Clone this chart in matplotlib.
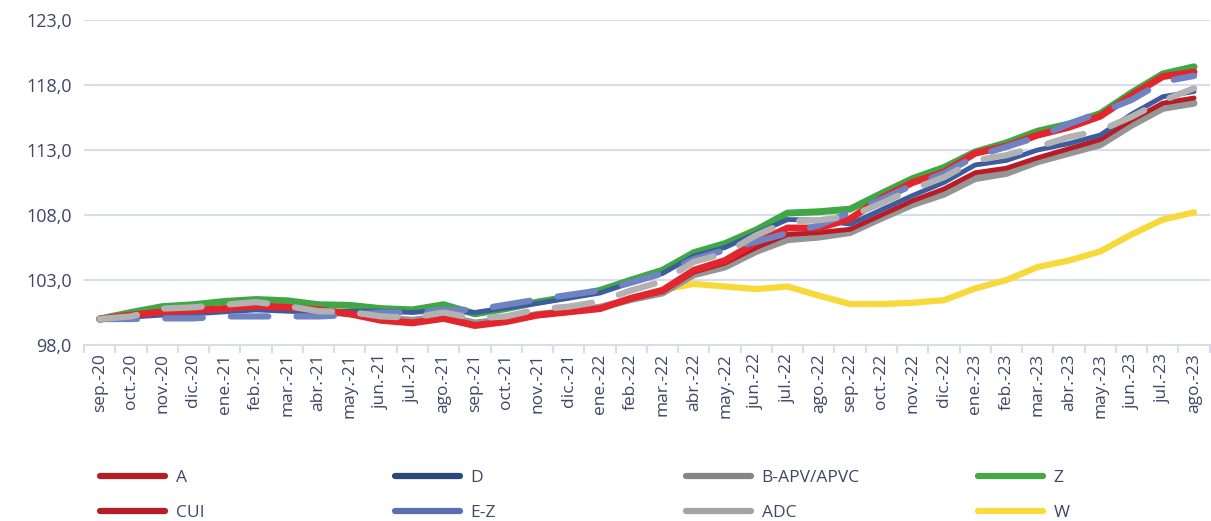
import matplotlib
matplotlib.use("Agg")
import matplotlib.pyplot as plt
from matplotlib.lines import Line2D
from matplotlib.ticker import FuncFormatter
import numpy as np

plt.rcParams['font.family'] = ['Open Sans', 'DejaVu Sans']

## Data (index, sep.-20 = 100)
months = ['sep.-20', 'oct.-20', 'nov.-20', 'dic.-20', 'ene.-21', 'feb.-21', 'mar.-21', 'abr.-21',
          'may.-21', 'jun.-21', 'jul.-21', 'ago.-21', 'sep.-21', 'oct.-21', 'nov.-21', 'dic.-21',
          'ene.-22', 'feb.-22', 'mar.-22', 'abr.-22', 'may.-22', 'jun.-22', 'jul.-22', 'ago.-22',
          'sep.-22', 'oct.-22', 'nov.-22', 'dic.-22', 'ene.-23', 'feb.-23', 'mar.-23', 'abr.-23',
          'may.-23', 'jun.-23', 'jul.-23', 'ago.-23']

serie_a = [100.0, 100.3, 100.55, 100.65, 100.8, 101.0, 100.9, 100.7, 100.4, 99.9, 99.7, 100.05,
           99.5, 99.8, 100.3, 100.55, 100.8, 101.6, 102.2, 103.75, 104.5, 105.9, 107.0, 107.0,
           107.7, 109.3, 110.5, 111.3, 112.75, 113.3, 114.15, 114.75, 115.6, 117.2, 118.65, 119.0]
serie_d = [100.0, 100.15, 100.3, 100.4, 100.55, 100.7, 100.6, 100.5, 100.6, 100.6, 100.5, 100.7,
           100.5, 100.85, 101.2, 101.6, 102.0, 102.8, 103.5, 104.85, 105.5, 106.6, 107.65, 107.6,
           107.3, 108.4, 109.5, 110.5, 111.85, 112.2, 113.0, 113.5, 114.15, 115.75, 117.1, 117.5]
serie_bapv = [100.0, 100.2, 100.5, 100.6, 100.8, 101.0, 100.9, 100.6, 100.4, 100.1, 99.9, 100.2,
              99.7, 99.95, 100.35, 100.6, 100.9, 101.5, 102.0, 103.4, 104.0, 105.2, 106.1, 106.3,
              106.65, 107.75, 108.8, 109.6, 110.8, 111.2, 112.1, 112.75, 113.4, 114.9, 116.2, 116.6]
serie_z = [100.0, 100.5, 100.95, 101.1, 101.35, 101.5, 101.4, 101.1, 101.05, 100.8, 100.7, 101.1,
           100.4, 100.8, 101.3, 101.7, 102.2, 103.0, 103.75, 105.1, 105.8, 106.85, 108.15, 108.25,
           108.45, 109.65, 110.8, 111.65, 112.85, 113.55, 114.45, 115.0, 115.8, 117.4, 118.85, 119.4]
serie_cui = [100.0, 100.25, 100.5, 100.6, 100.75, 100.95, 100.85, 100.65, 100.35, 99.95, 99.75, 100.0,
             99.55, 99.85, 100.3, 100.55, 100.8, 101.55, 102.1, 103.6, 104.3, 105.5, 106.5, 106.65,
             106.9, 108.0, 109.1, 110.0, 111.25, 111.6, 112.4, 113.1, 113.8, 115.3, 116.6, 117.0]
serie_ez = [100.0, 100.0, 100.05, 100.05, 100.2, 100.2, 100.2, 100.2, 100.3, 100.5, 100.5, 100.7,
            100.7, 101.1, 101.5, 101.85, 102.2, 102.8, 103.5, 104.6, 105.3, 105.95, 106.6, 107.2,
            108.2, 109.2, 110.3, 111.2, 112.5, 113.25, 114.0, 115.0, 115.9, 116.85, 118.25, 118.7]
serie_adc = [100.0, 100.2, 100.8, 100.9, 101.1, 101.3, 101.0, 100.6, 100.55, 100.2, 100.1, 100.5,
             100.05, 100.2, 100.75, 100.95, 101.35, 102.2, 102.9, 104.4, 105.05, 106.45, 107.5, 107.6,
             107.9, 108.9, 110.0, 110.9, 112.2, 112.6, 113.25, 114.0, 114.5, 115.55, 116.8, 117.75]
serie_w = [100.0, 100.3, 100.55, 100.65, 100.8, 101.0, 100.9, 100.7, 100.4, 99.95, 99.75, 100.05,
           99.55, 99.85, 100.3, 100.55, 100.8, 101.6, 102.25, 102.7, 102.5, 102.3, 102.5, 101.8,
           101.15, 101.15, 101.25, 101.45, 102.35, 103.0, 104.0, 104.5, 105.2, 106.5, 107.65, 108.2]

y_ticks = [98, 103, 108, 113, 118, 123]

grid_col = '#D9DCEE'
text_col = '#3E4766'

fig = plt.figure(figsize=(12.11, 5.21), dpi=100)
ax = fig.add_axes([0.0694, 0.3378, 0.9295, 0.6238])

x = np.arange(len(months))
common = dict(solid_capstyle='round', solid_joinstyle='round', dash_capstyle='round')

# drawing order: bottom -> top
ax.plot(x, serie_w, color='#F7D93A', lw=4.5, zorder=2, **common)
ax.plot(x, serie_z, color='#3FA845', lw=5, zorder=3, **common)
ax.plot(x, serie_bapv, color='#959595', lw=5, zorder=4, **common)
ax.plot(x, serie_cui, color='#B81C25', lw=3.5, zorder=5, **common)
ax.plot(x, serie_d, color='#3D5C9E', lw=3.5, zorder=6, **common)
ax.plot(x, serie_a, color='#E3262D', lw=5, zorder=7, **common)
ax.plot(x, serie_ez, color='#6F83C2', lw=4.5, zorder=8, dashes=(6, 4.5), **common)
ax.plot(x, serie_adc, color='#B2B2B2', lw=4.5, zorder=9, dashes=(6, 4.5), **common)

ax.set_xlim(-0.5, len(months) - 0.5)
ax.set_ylim(98, 123)
ax.set_yticks(y_ticks)
ax.yaxis.set_major_formatter(FuncFormatter(lambda v, p: f'{v:.1f}'.replace('.', ',')))
ax.grid(axis='y', color=grid_col, lw=1.5, zorder=0)
ax.set_axisbelow(True)

ax.set_xticks(x)
ax.set_xticklabels(months, rotation=90)
ax.set_xticks(np.arange(-0.5, len(months)), minor=True)
ax.tick_params(axis='x', which='major', length=0, pad=6, labelsize=12.5, labelcolor=text_col)
ax.tick_params(axis='x', which='minor', length=6, width=1.5, color=grid_col)
ax.tick_params(axis='y', length=0, pad=9, labelsize=13, labelcolor=text_col)

for s in ['top', 'right', 'left']:
    ax.spines[s].set_visible(False)
ax.spines['bottom'].set_color(grid_col)
ax.spines['bottom'].set_linewidth(1.5)

## Legend: four columns of two entries
legend_cols = [
    [('A', '#B51D27'), ('CUI', '#B51D27')],
    [('D', '#2A4878'), ('E-Z', '#5B70B3')],
    [('B-APV/APVC', '#858585'), ('ADC', '#A3A3A3')],
    [('Z', '#45A845'), ('W', '#F8DC3C')],
]
col_x = [0.0826, 0.326, 0.5665, 0.8076]
for cx, entries in zip(col_x, legend_cols):
    handles = [Line2D([0], [0], color=c, lw=4.5, solid_capstyle='round') for _, c in entries]
    labels = [n for n, _ in entries]
    leg = fig.legend(handles, labels, loc='upper left', bbox_to_anchor=(cx, 0.098),
                     bbox_transform=fig.transFigure, frameon=False, fontsize=12.5,
                     handlelength=3.75, handletextpad=0.6, labelspacing=1.1,
                     borderpad=0, borderaxespad=0)
    for t in leg.get_texts():
        t.set_color(text_col)

fig.savefig('out.png', dpi=100)
